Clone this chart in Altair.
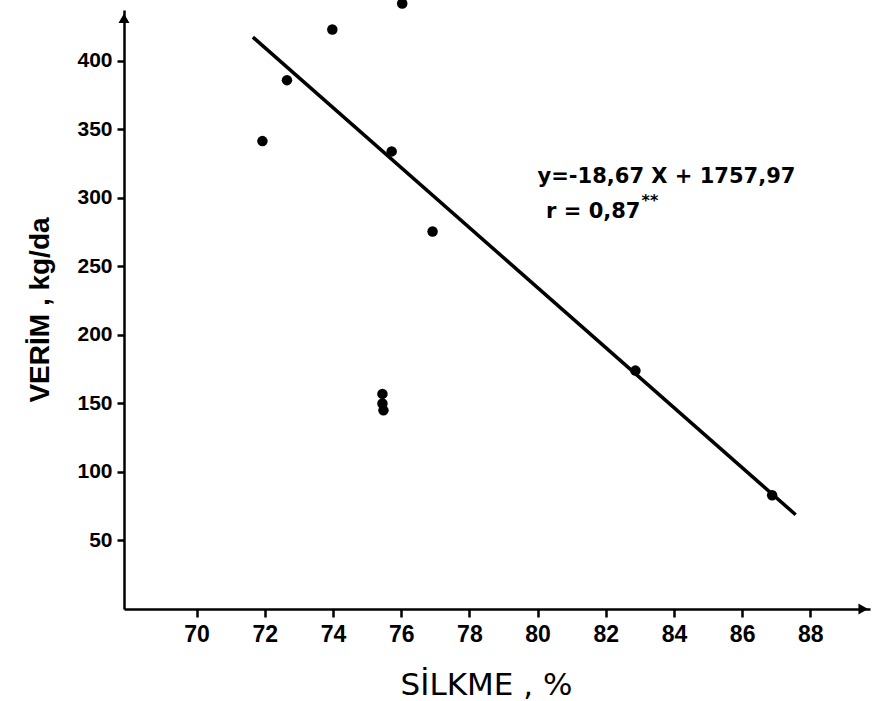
import altair as alt
import pandas as pd

# data
silkme = [71.93, 72.65, 73.98, 76.03, 75.72, 76.92, 75.45, 75.45, 75.48, 82.87, 86.88]
verim = [341.5, 386, 423, 442, 334, 275.5, 157, 150, 145, 174, 83]

line_x = [71.65, 87.57]
line_y = [417.4, 68.8]

x_ticks = [70, 72, 74, 76, 78, 80, 82, 84, 86, 88]
y_ticks = [50, 100, 150, 200, 250, 300, 350, 400]

eq_text = "y=-18,67 X + 1757,97"
r_text = "r = 0,87"
r_sup = "**"

X_DOM = [67.87, 89.75]
Y_DOM = [0, 437.2]

pts = pd.DataFrame({"x": silkme, "y": verim})
reg = pd.DataFrame({"x": line_x, "y": line_y})

xs = alt.Scale(domain=X_DOM, nice=False, zero=False)
ys = alt.Scale(domain=Y_DOM, nice=False, zero=False)

FONT = "Liberation Sans"
WIDE = "DejaVu Sans"

x_axis = alt.Axis(values=x_ticks, title="SİLKME  ,  %", grid=False,
                  domainColor="black", domainWidth=2.5, tickColor="black",
                  tickWidth=2.5, tickSize=8, labelFont=FONT, labelFontWeight="bold",
                  labelFontSize=23, labelColor="black", labelPadding=6,
                  titleFont=WIDE, titleFontSize=31, titleFontWeight="normal",
                  titleColor="black", titlePadding=24, titleX=362)
y_axis = alt.Axis(values=y_ticks, title="VERİM  ,  kg/da", grid=False,
                  domainColor="black", domainWidth=2.5, tickColor="black",
                  tickWidth=2.5, tickSize=7, labelFont=FONT, labelFontWeight="bold",
                  labelFontSize=21, labelColor="black", labelPadding=5,
                  titleFont=FONT, titleFontSize=28, titleFontWeight="bold",
                  titleColor="black", titlePadding=22)

points = alt.Chart(pts).mark_circle(color="black", size=110, opacity=1).encode(
    x=alt.X("x:Q", scale=xs, axis=x_axis),
    y=alt.Y("y:Q", scale=ys, axis=y_axis),
)

line = alt.Chart(reg).mark_line(color="black", strokeWidth=3.5).encode(
    x=alt.X("x:Q", scale=xs),
    y=alt.Y("y:Q", scale=ys),
)

arrows = alt.Chart(pd.DataFrame({"x": [X_DOM[1] - 0.2, X_DOM[0]],
                                 "y": [Y_DOM[0], Y_DOM[1] - 6],
                                 "s": ["triangle-right", "triangle-up"]})).mark_point(
    filled=True, color="black", size=120, opacity=1).encode(
    x=alt.X("x:Q", scale=xs),
    y=alt.Y("y:Q", scale=ys),
    shape=alt.Shape("s:N", scale=None),
)

eq = alt.Chart(pd.DataFrame({"x": [80.0, 80.25], "y": [315, 290], "t": [eq_text, r_text]})).mark_text(
    align="left", baseline="middle", font=WIDE, fontWeight="bold", fontSize=21, color="black"
).encode(x=alt.X("x:Q", scale=xs), y=alt.Y("y:Q", scale=ys), text="t:N")

sup = alt.Chart(pd.DataFrame({"x": [83.05], "y": [298], "t": [r_sup]})).mark_text(
    align="left", baseline="middle", font=WIDE, fontWeight="bold", fontSize=16, color="black"
).encode(x=alt.X("x:Q", scale=xs), y=alt.Y("y:Q", scale=ys), text="t:N")

chart = alt.layer(line, points, arrows, eq, sup).properties(
    width=746, height=599,
    autosize=alt.AutoSizeParams(type="none"),
    padding={"left": 124, "top": 10, "right": 3, "bottom": 92},
    background="white",
).configure_view(stroke=None)

chart.save("out.html", embed_options={"renderer": "svg", "actions": False})
